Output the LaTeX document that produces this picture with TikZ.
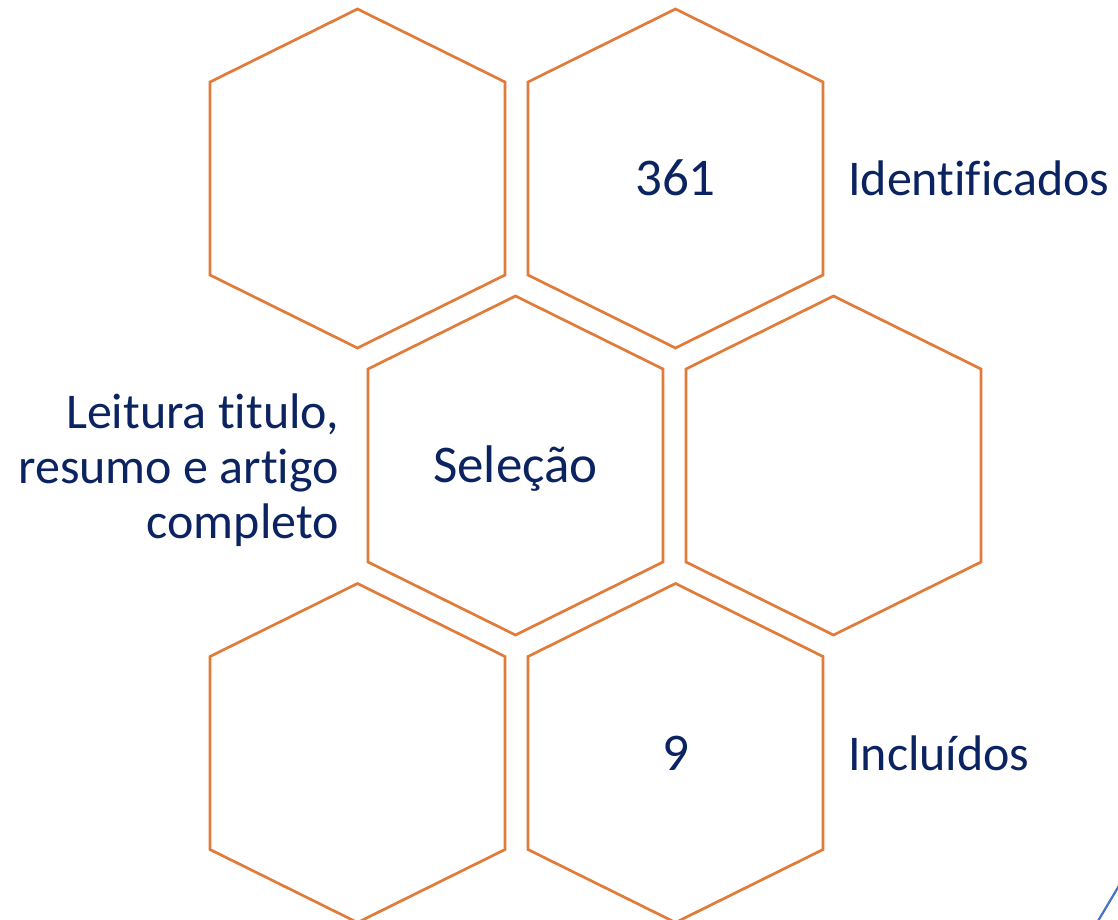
\documentclass[tikz,border=0pt]{standalone}
\usepackage{fontspec}
\setmainfont{Carlito}[Ligatures=NoCommon]
\usetikzlibrary{calc}
\definecolor{hexorange}{HTML}{E07B39}
\definecolor{navytext}{HTML}{0B2461}
\definecolor{accentblue}{HTML}{4472C4}
\tikzset{
  hexline/.style={draw=hexorange, line width=2.7pt, line join=miter},
  hexlabel/.style={inner sep=0pt, text=navytext, font=\fontsize{53}{58}\selectfont},
  sidelabel/.style={inner sep=0pt, text=navytext, font=\fontsize{50}{55}\selectfont},
}
\newcommand{\hexagonat}[1]{%
  \draw[hexline] ($(#1)+(0,-169.5)$) -- ($(#1)+(147.5,-96.5)$) -- ($(#1)+(147.5,96.5)$)
    -- ($(#1)+(0,169.5)$) -- ($(#1)+(-147.5,96.5)$) -- ($(#1)+(-147.5,-96.5)$) -- cycle;}
\begin{document}
\begin{tikzpicture}[x=1pt,y=-1pt]
\useasboundingbox (0,0) rectangle (1118,919);
\begin{scope}
\clip (0,0) rectangle (1118,919);
% hexagon centres
\coordinate (h1) at (357.5,178.5);
\coordinate (h2) at (675.5,178.5);
\coordinate (h3) at (515.5,465.5);
\coordinate (h4) at (833.5,465.5);
\coordinate (h5) at (357.5,753);
\coordinate (h6) at (675.5,753);
\hexagonat{h1}
\hexagonat{h2}
\hexagonat{h3}
\hexagonat{h4}
\hexagonat{h5}
\hexagonat{h6}
% accent line
\coordinate (b1) at (1098,921);
\coordinate (b2) at (1120,884);
\draw[accentblue, line width=2.2pt] (b1) -- (b2);
\end{scope}
% labels
\node[hexlabel, anchor=base] (n361) at (675.5,195) {361};
\node[sidelabel, anchor=base west] (ident) at (848,195) {Identificados};
\node[hexlabel, anchor=base] (sel) at (515.5,482) {Seleção};
\node[sidelabel, anchor=east, align=right] (leit) at (339,470) {Leitura titulo,\\resumo e artigo\\completo};
\node[hexlabel, anchor=base] (n9) at (675.5,770) {9};
\node[sidelabel, anchor=base west] (incl) at (848,770) {Incluídos};
\end{tikzpicture}
\end{document}
